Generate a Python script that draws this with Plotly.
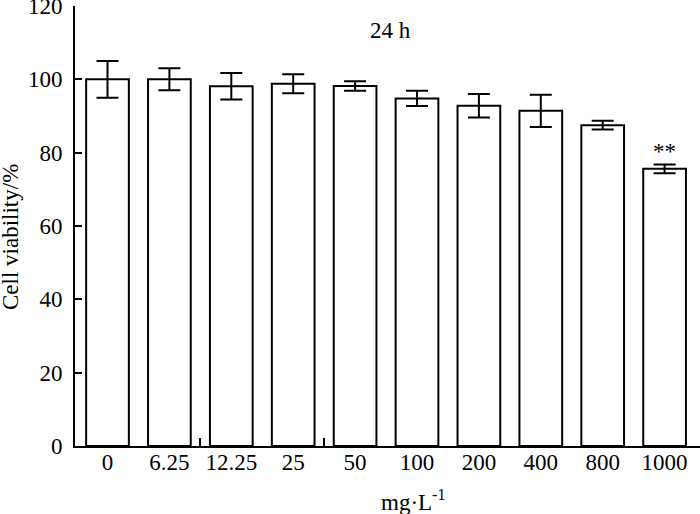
import plotly.graph_objects as go

# concentrations (mg/L) and 24 h viability readings
doses = ["0", "6.25", "12.25", "25", "50", "100", "200", "400", "800", "1000"]
viability = [100.0, 100.0, 98.1, 98.8, 98.2, 94.8, 92.8, 91.4, 87.5, 75.6]
sd = [5.0, 3.0, 3.6, 2.6, 1.3, 2.1, 3.2, 4.4, 1.2, 1.2]
marks = ["", "", "", "", "", "", "", "", "", "**"]

FONT = "Liberation Serif, Times New Roman, serif"
SIZE = 23
x_pos = list(range(len(doses)))

fig = go.Figure()
fig.add_trace(go.Bar(
    x=x_pos, y=viability,
    marker=dict(color="white", line=dict(color="black", width=2)),
    error_y=dict(type="data", array=sd, color="black", thickness=2, width=11),
    width=0.69,
    showlegend=False,
))

# significance stars above the error bars
for i, m in enumerate(marks):
    if m:
        fig.add_annotation(x=x_pos[i], y=viability[i] + sd[i], text=m,
                           showarrow=False, yanchor="bottom", yshift=-2,
                           font=dict(family=FONT, size=SIZE, color="black"))

fig.add_annotation(xref="paper", yref="paper", x=0.504, y=0.945, text="24 h",
                   showarrow=False, yanchor="middle",
                   font=dict(family=FONT, size=SIZE, color="black"))
fig.add_annotation(xref="paper", yref="paper", x=0.541, y=-0.123,
                   text="mg·L<sup>-1</sup>", showarrow=False, yanchor="middle",
                   font=dict(family=FONT, size=SIZE, color="black"))
fig.add_annotation(xref="paper", yref="paper", x=-0.104, y=0.475,
                   text="Cell viability/%", textangle=-90, showarrow=False,
                   xanchor="center", yanchor="middle",
                   font=dict(family=FONT, size=SIZE, color="black"))

fig.update_layout(
    width=700, height=514,
    margin=dict(l=75, r=0, t=6, b=68, autoexpand=False),
    plot_bgcolor="white", paper_bgcolor="white",
    font=dict(family=FONT, size=SIZE, color="black"),
    xaxis=dict(
        range=[-0.525, 9.572], tickmode="array", tickvals=x_pos, ticktext=doses,
        ticks="", showline=True, linecolor="black", linewidth=2,
        showgrid=False, zeroline=False, ticklabelstandoff=-6, automargin=False,
        minor=dict(tickmode="array", tickvals=[1.5, 3.5], ticks="inside",
                   ticklen=8, tickwidth=1.5, tickcolor="black", showgrid=False),
    ),
    yaxis=dict(
        range=[0, 120], tickvals=[0, 20, 40, 60, 80, 100, 120],
        ticks="inside", ticklen=7, tickwidth=1.5, tickcolor="black",
        showline=True, linecolor="black", linewidth=2, automargin=False,
        showgrid=False, zeroline=False, ticklabelstandoff=6,
        ticklabeloverflow="allow",
    ),
)

# drop the browser's default 8px body margin so the figure sits at the corner
fig.write_html("out.html", config={"displayModeBar": False},
               post_script="document.body.style.margin='0';")
